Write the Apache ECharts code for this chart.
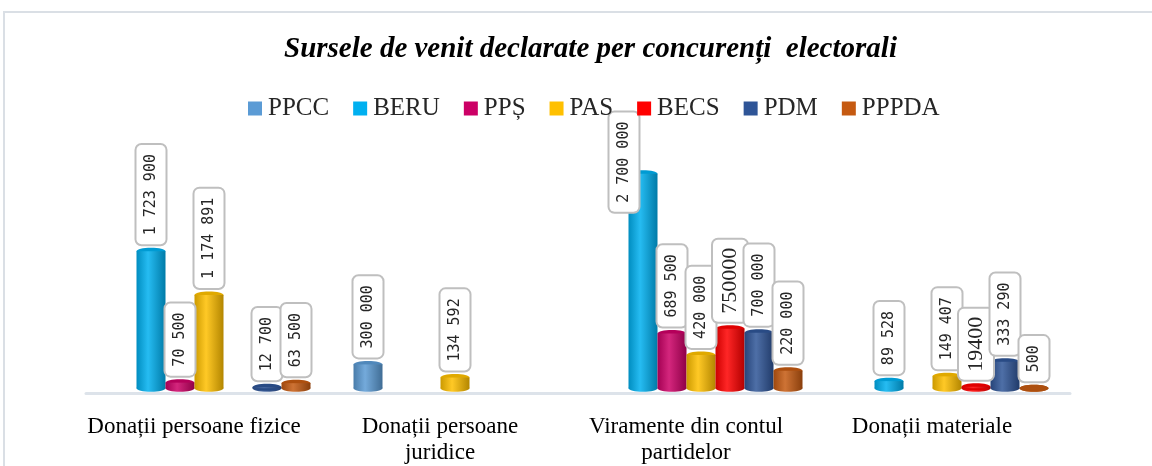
<!DOCTYPE html>
<html>
<head>
<meta charset="utf-8">
<script src="https://cdn.jsdelivr.net/npm/echarts@6/dist/echarts.min.js"></script>
<style>
html, body { margin: 0; padding: 0; background: #fff; }
#chart { width: 1152px; height: 466px; }
</style>
</head>
<body>
<div id="chart"></div>
<script>
var categories = ['Donații persoane fizice', 'Donații persoane\njuridice', 'Viramente din contul\npartidelor', 'Donații materiale'];
var parties = ['PPCC', 'BERU', 'PPȘ', 'PAS', 'BECS', 'PDM', 'PPPDA'];

var ppcc  = [null, 300000, null, null];
var beru  = [1723900, null, 2700000, 89528];
var pps   = [70500, null, 689500, null];
var pas   = [1174891, 134592, 420000, 149407];
var becs  = [null, null, 750000, 19400];
var pdm   = [12700, null, 700000, 333290];
var pppda = [63500, null, 220000, 500];

var values = [ppcc, beru, pps, pas, becs, pdm, pppda];
// labels drawn large and without separator (as in the original)
var bigLabels = { BECS: [2, 3] };

var colors = ['#5b9bd5', '#00b0f0', '#cc0066', '#ffc000', '#ff0000', '#2f5597', '#c55a11'];

function shade(hex, f) {
	var n = parseInt(hex.slice(1), 16);
	var r = (n >> 16) & 255, g = (n >> 8) & 255, b = n & 255;
	function c(v) { return Math.max(0, Math.min(255, Math.round(f < 0 ? v * (1 + f) : v + (255 - v) * f))); }
	return 'rgb(' + c(r) + ',' + c(g) + ',' + c(b) + ')';
}
function fmt(v) {
	return String(v).replace(/\B(?=(\d{3})+(?!\d))/g, ' ');
}
function bodyFill(col) {
	return new echarts.graphic.LinearGradient(0, 0, 1, 0, [
		{ offset: 0, color: shade(col, -0.2) },
		{ offset: 0.4, color: shade(col, 0.15) },
		{ offset: 1, color: shade(col, -0.3) }
	]);
}

var BW = 29;
var series = [];
parties.forEach(function (name, i) {
	var col = colors[i];
	var big = bigLabels[name] || [];
	series.push({
		name: name,
		type: 'bar',
		barWidth: BW,
		barGap: '0%',
		itemStyle: { color: bodyFill(col) },
		data: values[i].map(function (v, c) {
			var item = { value: v };
			if (big.indexOf(c) >= 0) {
				item.label = { fontFamily: 'Liberation Serif', fontSize: 22, padding: [6, 8], formatter: String(v) };
			}
			// the tallest label was moved beside its bar in the original
			// (offset is in the label's rotated frame)
			if (name === 'BERU' && c === 2) {
				item.label = { offset: [-45, -19] };
			}
			return item;
		}),
		label: {
			show: true,
			position: 'top',
			rotate: 90,
			align: 'left',
			verticalAlign: 'middle',
			distance: 7,
			fontFamily: 'DejaVu Sans Mono',
			fontSize: 15,
			color: '#262626',
			backgroundColor: '#fff',
			borderColor: '#bfbfbf',
			borderWidth: 2,
			borderRadius: 5,
			padding: [7, 9],
			formatter: function (p) { return fmt(p.value); }
		},
		z: 2
	});
});

// elliptical bottom and top of each cylinder
parties.forEach(function (name, i) {
	var col = colors[i];
	var pts = [];
	values[i].forEach(function (v, c) { if (v != null) pts.push([c, v]); });
	series.push({
		name: name,
		type: 'custom',
		data: pts,
		z: 2,
		silent: true,
		renderItem: function (params, api) {
			var base = api.coord([api.value(0), 0]);
			var top = api.coord([api.value(0), api.value(1)]);
			var cx = base[0] + (i - 3) * BW;
			var rx = BW / 2, ry = 3.5;
			return {
				type: 'group',
				children: [{
					type: 'ellipse',
					shape: { cx: cx, cy: base[1], rx: rx, ry: ry },
					style: { fill: bodyFill(col) }
				}, {
					type: 'ellipse',
					shape: { cx: cx, cy: top[1], rx: rx, ry: ry },
					style: { fill: shade(col, -0.12) }
				}]
			};
		}
	});
});

var chart = echarts.init(document.getElementById('chart'));
chart.setOption({
	animation: false,
	backgroundColor: '#fff',
	graphic: [{
		type: 'rect',
		shape: { x: 4, y: 12, width: 1200, height: 500 },
		style: { fill: 'none', stroke: '#dadfe5', lineWidth: 2 },
		silent: true
	}],
	title: {
		text: 'Sursele de venit declarate per concurenți  electorali',
		left: 279,
		top: 30,
		textStyle: {
			fontFamily: 'Liberation Serif',
			fontStyle: 'italic',
			fontWeight: 'bold',
			fontSize: 29,
			color: '#000'
		}
	},
	legend: {
		data: parties.map(function (n, i) { return { name: n, itemStyle: { color: colors[i] } }; }),
		top: 91,
		left: 243,
		itemWidth: 14,
		itemHeight: 14,
		itemGap: 24,
		icon: 'rect',
		textStyle: { fontFamily: 'Liberation Serif', fontSize: 25, color: '#262626', padding: [0, 0, 0, 1] }
	},
	color: colors,
	grid: { left: 86, right: 82, top: 150, bottom: 66 },
	xAxis: {
		type: 'category',
		data: categories,
		axisLine: { onZero: false, lineStyle: { color: '#dde3ea', width: 3 } },
		axisTick: { show: false },
		axisLabel: {
			margin: 21,
			fontFamily: 'Liberation Serif',
			fontSize: 23,
			lineHeight: 26,
			color: '#000',
			padding: [0, 30, 0, 0],
			interval: 0
		}
	},
	yAxis: {
		type: 'value',
		min: -60000,
		max: 3000000,
		show: false,
		splitLine: { show: false }
	},
	series: series
});
</script>
</body>
</html>
